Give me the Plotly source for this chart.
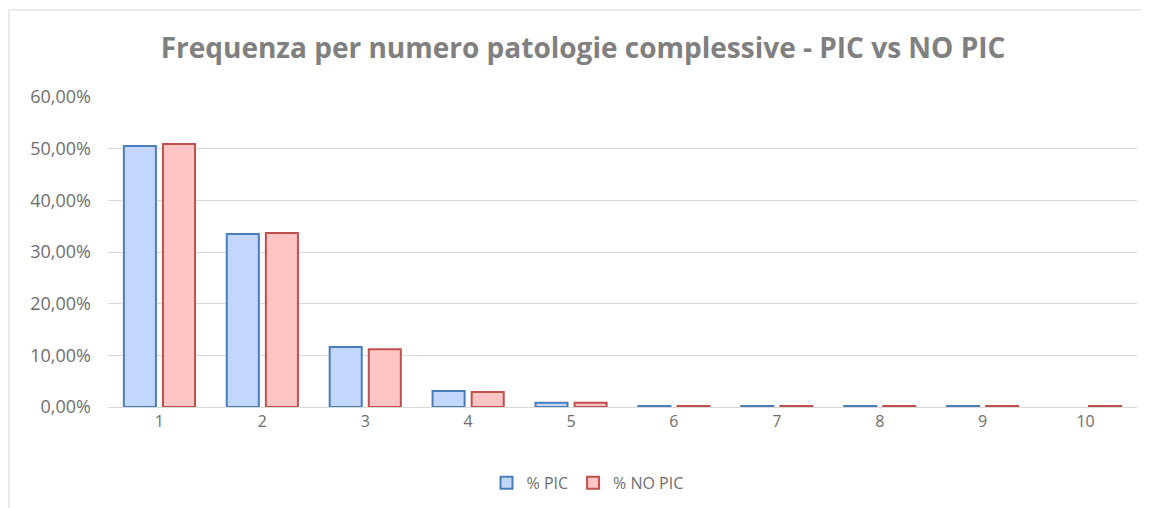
import plotly.graph_objects as go

categories = ["1", "2", "3", "4", "5", "6", "7", "8", "9", "10"]
pic = [50.5, 33.5, 11.6, 3.1, 0.8, 0.2, 0.2, 0.2, 0.2, None]
no_pic = [50.9, 33.7, 11.2, 2.9, 0.8, 0.2, 0.2, 0.2, 0.2, 0.2]
y_ticks = [0, 10, 20, 30, 40, 50, 60]
y_tick_labels = ["0,00%", "10,00%", "20,00%", "30,00%", "40,00%", "50,00%", "60,00%"]

fig = go.Figure()
fig.add_trace(go.Bar(
    x=categories, y=pic, name="% PIC",
    marker=dict(color="#c3d6fc", line=dict(color="#4a7ebb", width=2)),
))
fig.add_trace(go.Bar(
    x=categories, y=no_pic, name="% NO PIC",
    marker=dict(color="#ffc4c4", line=dict(color="#c0504d", width=2)),
))

fig.update_layout(
    width=1150, height=508,
    margin=dict(l=100, r=21, t=89, b=109),
    paper_bgcolor="white", plot_bgcolor="white",
    barmode="group", bargap=0.24, bargroupgap=0.18,
    title=dict(text="<b>Frequenza per numero patologie complessive - PIC vs NO PIC</b>",
               x=0.5, xanchor="center", y=0.921, yanchor="middle",
               font=dict(family="Open Sans", size=28, color="#808080")),
    font=dict(family="Open Sans", size=16, color="#6e6e6e"),
    xaxis=dict(showgrid=False, showline=True, linecolor="#d9d9d9", linewidth=1,
               ticks="", tickfont=dict(size=16, color="#6e6e6e")),
    yaxis=dict(range=[0, 60], tickvals=y_ticks, ticktext=y_tick_labels,
               showgrid=True, gridcolor="#d9d9d9", gridwidth=1, zeroline=False,
               showline=False, ticks="", ticklen=0, ticklabelstandoff=16,
               tickfont=dict(size=18, color="#6e6e6e")),
    legend=dict(orientation="h", x=0.466, xanchor="center", y=-0.245, yanchor="middle",
                font=dict(size=16, color="#6e6e6e"), itemwidth=30),
    shapes=[dict(type="rect", xref="paper", yref="paper",
                 x0=-0.0962, x1=1.05, y0=-0.4, y1=1.2806,
                 line=dict(color="#d9d9d9", width=1))],
)

fig.write_html("out.html")
